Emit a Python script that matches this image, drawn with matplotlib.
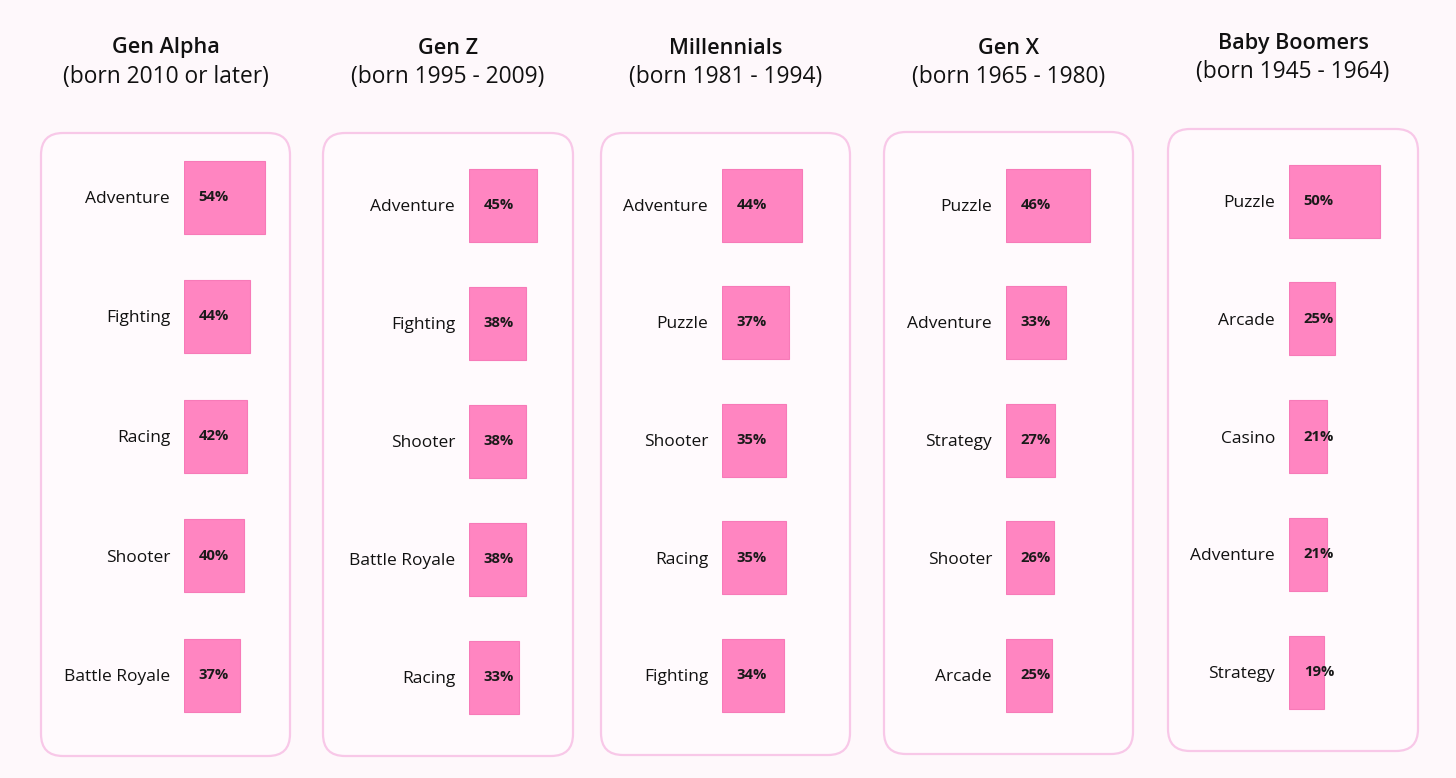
import matplotlib
matplotlib.use("Agg")
import matplotlib.pyplot as plt
from matplotlib.patches import FancyBboxPatch
from matplotlib.transforms import IdentityTransform

# ---- data ----
gen_names = ["Gen Alpha", "Gen Z", "Millennials", "Gen X", "Baby Boomers"]
gen_born = ["(born 2010 or later)", "(born 1995 - 2009)", "(born 1981 - 1994)",
            "(born 1965 - 1980)", "(born 1945 - 1964)"]
alpha_genres = ["Adventure", "Fighting", "Racing", "Shooter", "Battle Royale"]
alpha_values = [54, 44, 42, 40, 37]
genz_genres = ["Adventure", "Fighting", "Shooter", "Battle Royale", "Racing"]
genz_values = [45, 38, 38, 38, 33]
mill_genres = ["Adventure", "Puzzle", "Shooter", "Racing", "Fighting"]
mill_values = [44, 37, 35, 35, 34]
genx_genres = ["Puzzle", "Adventure", "Strategy", "Shooter", "Arcade"]
genx_values = [46, 33, 27, 26, 25]
boom_genres = ["Puzzle", "Arcade", "Casino", "Adventure", "Strategy"]
boom_values = [50, 25, 21, 21, 19]

genres = [alpha_genres, genz_genres, mill_genres, genx_genres, boom_genres]
values = [alpha_values, genz_values, mill_values, genx_values, boom_values]

# ---- layout (pixels, origin top-left) ----
W, H = 1456, 778
BG = "#fef8fb"
BAR = "#ff85c1"
BAR_EDGE = "#f77ab8"
BOX_EDGE = "#f8c8e8"
FONT = ["Open Sans", "DejaVu Sans"]

boxes = [(41, 290, 133, 756), (323, 573, 133, 756), (601, 850, 133, 755),
         (884, 1133, 132, 754), (1168, 1418, 129, 751)]
bar_left = [184, 469, 722, 1006, 1289]
px_per_pct = [1.5, 1.5, 1.82, 1.83, 1.82]
row_first = [197, 205, 205, 205, 201]
row_step = [119.5, 118, 117.5, 117.5, 117.8]
title_y = [(48, 77), (48, 77), (48, 77), (48, 77), (44, 72)]
bar_h_px = 73

fig = plt.figure(figsize=(W / 100, H / 100), dpi=100, facecolor=BG)

for k in range(5):
    x0, x1, y0, y1 = boxes[k]
    # rounded box
    box = FancyBboxPatch((x0, H - y1), x1 - x0, y1 - y0,
                         boxstyle="round,pad=0,rounding_size=22",
                         transform=IdentityTransform(), facecolor="#fffafd",
                         edgecolor=BOX_EDGE, linewidth=1.6, zorder=-5)
    fig.patches.append(box)

    cx = (x0 + x1) / 2
    fig.text(cx / W, 1 - title_y[k][0] / H, gen_names[k], ha="center", va="center",
             fontsize=15.6, fontweight="semibold", family=FONT, color="#111111")
    fig.text(cx / W, 1 - title_y[k][1] / H, gen_born[k], ha="center", va="center",
             fontsize=16.4, family=FONT, color="#111111")

    bl = bar_left[k]
    s = px_per_pct[k]
    ax = fig.add_axes([bl / W, (H - y1) / H, (x1 - bl) / W, (y1 - y0) / H])
    ax.set_zorder(2)
    ax.set_facecolor("none")
    ax.set_xlim(0, (x1 - bl) / s)
    step = row_step[k]
    ax.set_ylim((y1 - row_first[k]) / step, (y0 - row_first[k]) / step)
    ypos = list(range(len(values[k])))
    ax.barh(ypos, values[k], height=bar_h_px / step, left=0, color=BAR,
            edgecolor=BAR_EDGE, linewidth=0.8)
    for i, v in enumerate(values[k]):
        ax.annotate(f"{v}%", xy=(0, i), xytext=(10.6, 0), textcoords="offset points",
                    ha="left", va="center", fontsize=10.6, fontweight="bold",
                    family=FONT, color="#1a1a1a")
    ax.set_yticks(ypos)
    ax.set_yticklabels(genres[k], family=FONT, fontsize=12.5, color="#111111")
    ax.tick_params(axis="y", length=0, pad=10)
    ax.set_xticks([])
    for sp in ax.spines.values():
        sp.set_visible(False)

fig.savefig("out.png", dpi=100, facecolor=BG)
